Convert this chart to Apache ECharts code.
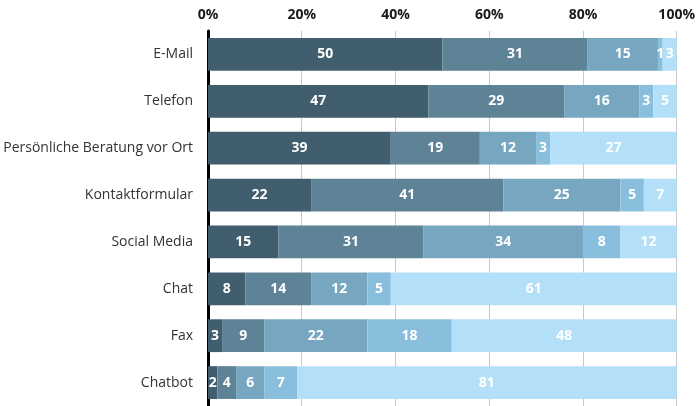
<!DOCTYPE html>
<html>
<head>
<meta charset="utf-8">
<script src="https://cdn.jsdelivr.net/npm/echarts@6/dist/echarts.min.js"></script>
<style>
  html, body { margin: 0; padding: 0; background: #fff; }
  #chart { width: 698px; height: 406px; }
</style>
</head>
<body>
<div id="chart"></div>
<script>
// Contact channels, top to bottom
const categories = ['E-Mail', 'Telefon', 'Persönliche Beratung vor Ort', 'Kontaktformular', 'Social Media', 'Chat', 'Fax', 'Chatbot'];

// Shares (%) per rating level, one array per stack segment
const level1 = [50, 47, 39, 22, 15, 8, 3, 2];
const level2 = [31, 29, 19, 41, 31, 14, 9, 4];
const level3 = [15, 16, 12, 25, 34, 12, 22, 6];
const level4 = [1, 3, 3, 5, 8, 5, 18, 7];
const level5 = [3, 5, 27, 7, 12, 61, 48, 81];

const tickValues = [0, 20, 40, 60, 80, 100];

const levels = [level1, level2, level3, level4, level5];
const colors = ['#415e6e', '#5e8296', '#76a6c0', '#89bfdc', '#b3e0f8'];

const fontFamily = '"Open Sans", "Noto Sans", sans-serif';

const chart = echarts.init(document.getElementById('chart'));
chart.setOption({
  animation: false,
  grid: { left: 208, right: 21, top: 31, bottom: 0 },
  xAxis: {
    type: 'value',
    position: 'top',
    min: tickValues[0],
    max: tickValues[tickValues.length - 1],
    interval: 20,
    axisLine: { show: false },
    axisTick: { show: false },
    splitLine: { show: true, lineStyle: { color: '#c8c8c8', width: 1 } },
    axisLabel: {
      formatter: '{value}%',
      color: '#1a1a1a',
      fontWeight: 'bold',
      fontSize: 14,
      fontFamily: fontFamily,
      margin: 9
    }
  },
  yAxis: {
    type: 'category',
    data: categories,
    inverse: true,
    axisLine: { show: true, lineStyle: { color: '#000', width: 3 } },
    axisTick: { show: false },
    axisLabel: {
      color: '#333',
      fontSize: 14,
      fontFamily: fontFamily,
      margin: 15
    }
  },
  series: levels.map((vals, i) => ({
    type: 'bar',
    stack: 'total',
    data: vals,
    barWidth: '70%',
    itemStyle: { color: colors[i] },
    label: {
      show: true,
      position: 'inside',
      color: '#fff',
      fontWeight: 'bold',
      fontSize: 14,
      fontFamily: fontFamily
    },
    z: 3
  }))
});
</script>
</body>
</html>
